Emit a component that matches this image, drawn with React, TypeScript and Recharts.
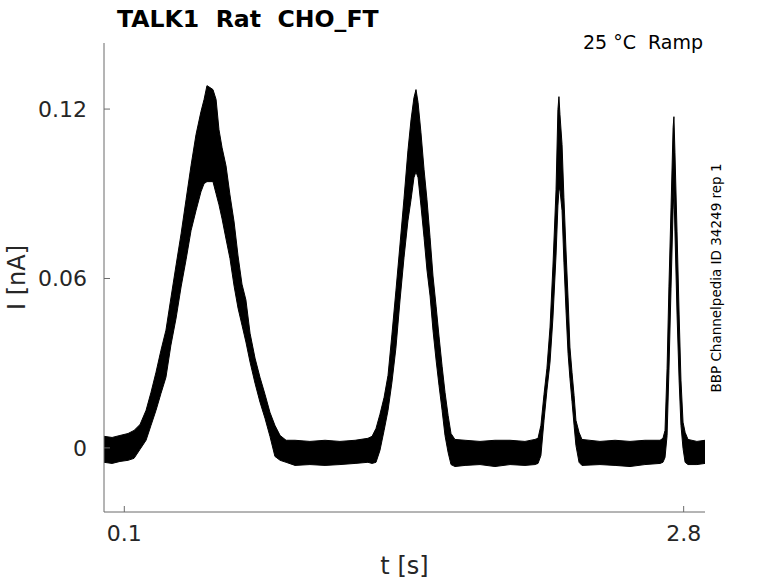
import React from 'react';
import { ComposedChart, Area, XAxis, YAxis } from 'recharts';

// time [s]
const time = [
  0.002, 0.041, 0.079, 0.118, 0.147, 0.176,
  0.205, 0.229, 0.253, 0.277, 0.301, 0.325, 0.350, 0.374, 0.398, 0.422, 0.446, 0.470, 0.485, 0.499,
  0.514, 0.528, 0.543, 0.557, 0.572, 0.591, 0.610, 0.630, 0.649, 0.668, 0.687, 0.707, 0.731, 0.755,
  0.779, 0.803, 0.827, 0.852, 0.881,
  0.924, 0.996, 1.069, 1.141, 1.214, 1.276,
  1.296, 1.315, 1.334, 1.354, 1.373, 1.392, 1.411, 1.431, 1.450, 1.469, 1.484, 1.498, 1.508, 1.518,
  1.532, 1.547, 1.561, 1.576, 1.590, 1.605, 1.619, 1.634, 1.648, 1.663, 1.677, 1.696,
  1.745, 1.817, 1.889, 1.962, 2.034, 2.082,
  2.097, 2.111, 2.126, 2.140, 2.155, 2.169, 2.184, 2.193, 2.198, 2.203, 2.213, 2.222, 2.232, 2.242,
  2.251, 2.261, 2.271, 2.280, 2.295, 2.309,
  2.396, 2.469, 2.541, 2.613, 2.686,
  2.700, 2.710, 2.720, 2.729, 2.739, 2.749, 2.753, 2.758, 2.768, 2.778, 2.787, 2.797, 2.807, 2.821,
  2.864, 2.903,
];

// upper edge of the noisy current trace [nA]
const upper = [
  0.0041, 0.0037, 0.0044, 0.0051, 0.0062, 0.0083,
  0.0133, 0.0197, 0.0268, 0.0346, 0.0417, 0.0531, 0.0648, 0.0758, 0.0879, 0.0999, 0.1109, 0.1191, 0.1234, 0.1283,
  0.1276, 0.1269, 0.1234, 0.1127, 0.1063, 0.0999, 0.0896, 0.0800, 0.0680, 0.0580, 0.0524, 0.0406, 0.0318, 0.0250,
  0.0190, 0.0126, 0.0080, 0.0044, 0.0027,
  0.0027, 0.0023, 0.0027, 0.0023, 0.0027, 0.0034,
  0.0041, 0.0069, 0.0119, 0.0179, 0.0257, 0.0403, 0.0556, 0.0722, 0.0882, 0.1052, 0.1162, 0.1240, 0.1269, 0.1223,
  0.1116, 0.0985, 0.0879, 0.0744, 0.0609, 0.0502, 0.0396, 0.0289, 0.0197, 0.0115, 0.0051, 0.0030,
  0.0027, 0.0023, 0.0027, 0.0027, 0.0023, 0.0030,
  0.0034, 0.0080, 0.0190, 0.0282, 0.0428, 0.0644, 0.0914, 0.1198, 0.1244, 0.1180, 0.1074, 0.0886, 0.0701, 0.0531,
  0.0357, 0.0268, 0.0186, 0.0098, 0.0055, 0.0030,
  0.0023, 0.0027, 0.0023, 0.0027, 0.0027,
  0.0034, 0.0062, 0.0282, 0.0573, 0.0850, 0.1134, 0.1173, 0.1045, 0.0765, 0.0474, 0.0240, 0.0091, 0.0055, 0.0030,
  0.0023, 0.0027,
];

// lower edge of the noisy current trace [nA]
const lower = [
  -0.0051, -0.0055, -0.0048, -0.0044, -0.0037, -0.0005,
  0.0027, 0.0080, 0.0133, 0.0193, 0.0250, 0.0364, 0.0460, 0.0570, 0.0666, 0.0769, 0.0840, 0.0907, 0.0936, 0.0943,
  0.0943, 0.0943, 0.0900, 0.0861, 0.0811, 0.0740, 0.0671, 0.0573, 0.0495, 0.0435, 0.0375, 0.0304, 0.0229, 0.0162,
  0.0105, 0.0041, -0.0030, -0.0044, -0.0051,
  -0.0062, -0.0059, -0.0062, -0.0059, -0.0055, -0.0051,
  -0.0055, -0.0051, -0.0009, 0.0062, 0.0133, 0.0233, 0.0353, 0.0524, 0.0673, 0.0804, 0.0879, 0.0957, 0.0978, 0.0957,
  0.0857, 0.0744, 0.0630, 0.0538, 0.0417, 0.0311, 0.0222, 0.0133, 0.0044, -0.0016, -0.0059, -0.0066,
  -0.0062, -0.0059, -0.0066, -0.0059, -0.0062, -0.0059,
  -0.0055, -0.0027, 0.0098, 0.0204, 0.0304, 0.0460, 0.0683, 0.0857, 0.0914, 0.0914, 0.0840, 0.0658, 0.0488, 0.0335,
  0.0247, 0.0165, 0.0080, 0.0009, -0.0051, -0.0062,
  -0.0059, -0.0062, -0.0066, -0.0059, -0.0055,
  -0.0051, -0.0034, 0.0044, 0.0275, 0.0566, 0.0843, 0.0914, 0.0765, 0.0474, 0.0240, 0.0080, -0.0002, -0.0051, -0.0059,
  -0.0059, -0.0055,
];

const xTicks = [0.1, 2.8];
const yTicks = [0, 0.06, 0.12];
const xDomain = [0.002, 2.903];
const yDomain = [-0.0227, 0.1434];

const title = 'TALK1  Rat  CHO_FT';
const condition = '25 °C  Ramp';
const sourceNote = 'BBP Channelpedia ID 34249 rep 1';
const xLabel = 't [s]';
const yLabel = 'I [nA]';

const data = time.map((t, i) => ({ t, band: [lower[i], upper[i]] }));

const FONT = 'DejaVu Sans, sans-serif';
const AXIS = '#6b6b6b';
const TEXT = '#262626';

export default function App() {
  return (
    <div style={{ position: 'absolute', left: 0, top: 0, width: 778, height: 583, background: '#fff' }}>
      <ComposedChart
        width={778}
        height={583}
        data={data}
        margin={{ top: 43, right: 73, bottom: 0, left: 0 }}
      >
        <XAxis
          dataKey="t"
          type="number"
          domain={xDomain}
          ticks={xTicks}
          allowDataOverflow
          height={71}
          stroke={AXIS}
          tickSize={-6}
          tickMargin={19}
          tick={{ fill: TEXT, fontSize: 22, fontFamily: FONT }}
          tickFormatter={(v) => String(v)}
          label={{ value: xLabel, position: 'insideBottom', offset: 9, fill: TEXT, fontSize: 24, fontFamily: FONT }}
        />
        <YAxis
          type="number"
          domain={yDomain}
          ticks={yTicks}
          allowDataOverflow
          width={104}
          stroke={AXIS}
          tickSize={-6}
          tickMargin={23}
          tick={{ fill: TEXT, fontSize: 22, fontFamily: FONT }}
          tickFormatter={(v) => String(v)}
          label={{
            value: yLabel,
            angle: -90,
            position: 'insideLeft',
            offset: 16,
            fill: TEXT,
            fontSize: 24,
            fontFamily: FONT,
            style: { textAnchor: 'middle' },
          }}
        />
        <Area
          dataKey="band"
          type="linear"
          stroke="#000"
          strokeWidth={1}
          fill="#000"
          fillOpacity={1}
          isAnimationActive={false}
          dot={false}
          activeDot={false}
        />
      </ComposedChart>
      <svg
        width={778}
        height={583}
        style={{ position: 'absolute', left: 0, top: 0, pointerEvents: 'none' }}
      >
        <text x={117} y={27} fontFamily={FONT} fontWeight="bold" fontSize={23.6} fill="#000" style={{ whiteSpace: 'pre' }}>
          {title}
        </text>
        <text x={703} y={49} fontFamily={FONT} fontSize={19} fill="#000" textAnchor="end" style={{ whiteSpace: 'pre' }}>
          {condition}
        </text>
        <text
          x={721}
          y={278}
          fontFamily={FONT}
          fontSize={13.5}
          fill="#000"
          textAnchor="middle"
          transform="rotate(-90 721 278)"
        >
          {sourceNote}
        </text>
      </svg>
    </div>
  );
}
